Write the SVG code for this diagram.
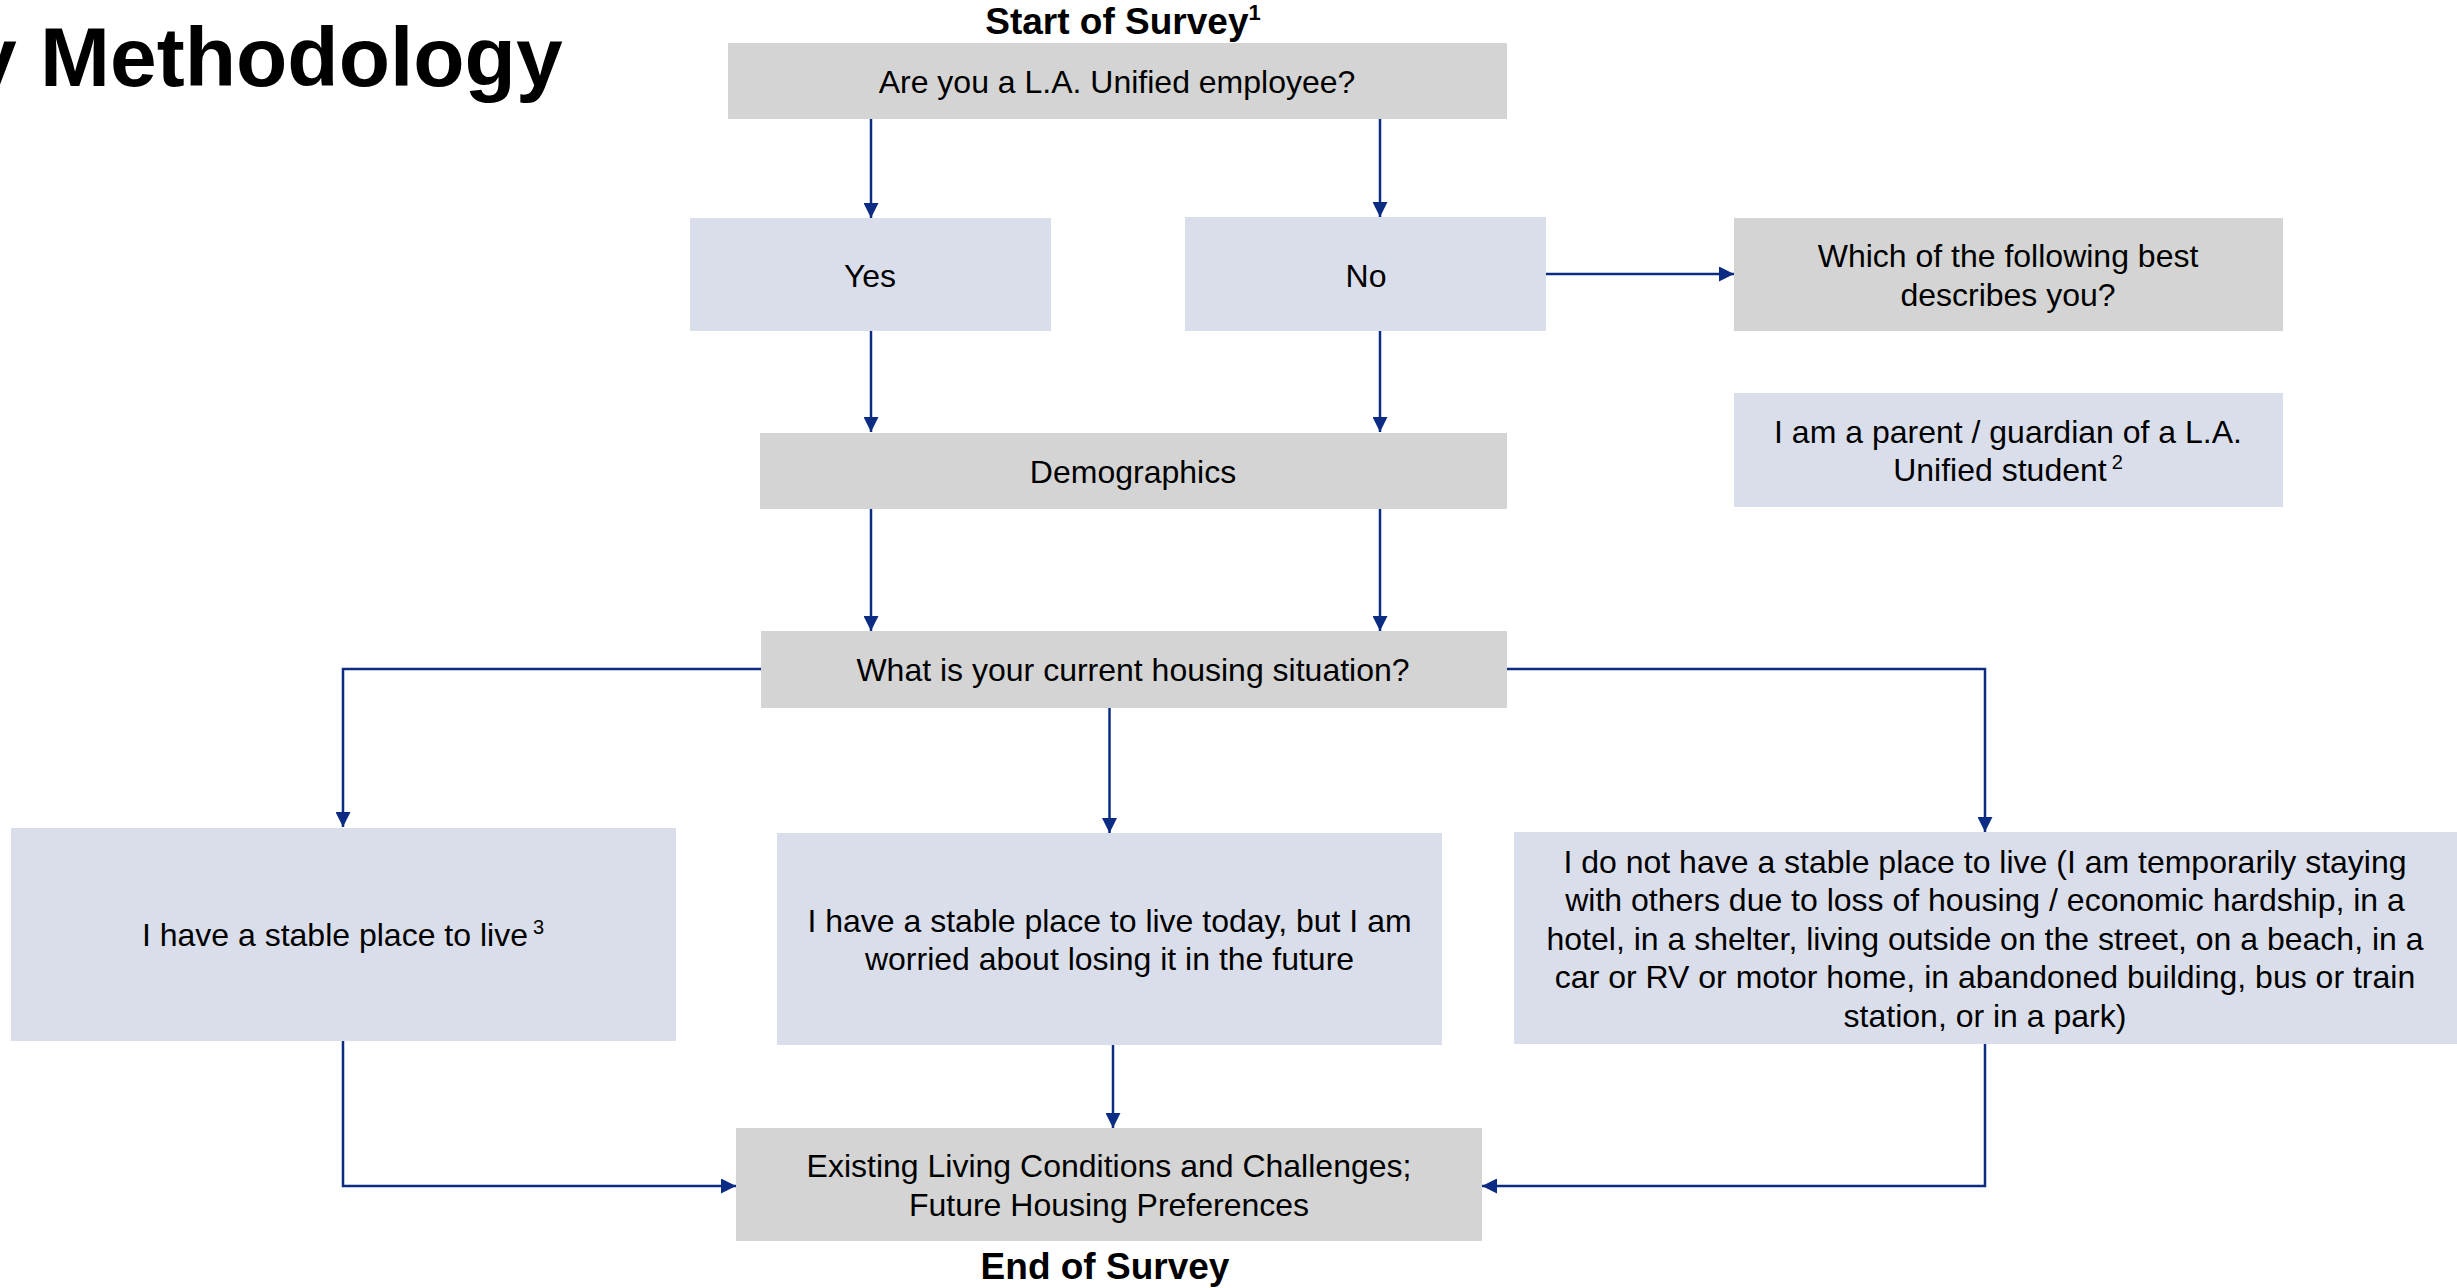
<svg xmlns="http://www.w3.org/2000/svg" width="2457" height="1288" viewBox="0 0 2457 1288">
<defs>
<marker id="ah" markerUnits="userSpaceOnUse" markerWidth="15" markerHeight="15" viewBox="0 0 15 15" refX="15" refY="7.5" orient="auto">
<path d="M0,0 L15,7.5 L0,15 z" fill="#0c2c84"/>
</marker>
</defs>
<style>
.g{fill:#d3d4d3}
.b{fill:#dadeea}
.t{font-family:"Liberation Sans",Arial,sans-serif;font-size:32px;fill:#000;text-anchor:middle}
.h{font-family:"Liberation Sans",Arial,sans-serif;font-weight:bold;font-size:37px;fill:#000;text-anchor:middle}
.sup{font-size:20px}
.c{fill:none;stroke:#0c2c84;stroke-width:2.5;marker-end:url(#ah)}
</style>
<rect width="2457" height="1288" fill="#fff"/>
<text x="-30" y="86" font-family="Liberation Sans,Arial,sans-serif" font-weight="bold" font-size="84" fill="#000">y Methodology</text>
<text class="h" x="1123" y="34">Start of Survey<tspan font-size="22" dy="-14">1</tspan></text>
<text class="h" x="1105" y="1279">End of Survey</text>

<g id="connectors">
<path class="c" d="M871,119 V218"/>
<path class="c" d="M1380,119 V217"/>
<path class="c" d="M1546,274 H1734"/>
<path class="c" d="M871,331 V432"/>
<path class="c" d="M1380,331 V432"/>
<path class="c" d="M871,509 V631"/>
<path class="c" d="M1380,509 V631"/>
<path class="c" d="M761,669 H343 V827"/>
<path class="c" d="M1109.5,708 V833"/>
<path class="c" d="M1507,669 H1985 V832"/>
<path class="c" d="M343,1041 V1186 H736"/>
<path class="c" d="M1113,1045 V1128"/>
<path class="c" d="M1985,1044 V1186 H1482"/>
</g>

<g id="n-employee">
<rect class="g" x="728" y="43" width="779" height="76"/>
<text class="t" x="1117" y="93">Are you a L.A. Unified employee?</text>
</g>
<g id="n-yes">
<rect class="b" x="690" y="218" width="361" height="113"/>
<text class="t" x="870" y="287">Yes</text>
</g>
<g id="n-no">
<rect class="b" x="1185" y="217" width="361" height="114"/>
<text class="t" x="1366" y="287">No</text>
</g>
<g id="n-which">
<rect class="g" x="1734" y="218" width="549" height="113"/>
<text class="t" x="2008" y="267">Which of the following best</text>
<text class="t" x="2008" y="306">describes you?</text>
</g>
<g id="n-parent">
<rect class="b" x="1734" y="393" width="549" height="114"/>
<text class="t" x="2008" y="443">I am a parent / guardian of a L.A.</text>
<text class="t" x="2008" y="481">Unified student<tspan class="sup" dx="5" dy="-12">2</tspan></text>
</g>
<g id="n-demographics">
<rect class="g" x="760" y="433" width="747" height="76"/>
<text class="t" x="1133" y="483">Demographics</text>
</g>
<g id="n-housing">
<rect class="g" x="761" y="631" width="746" height="77"/>
<text class="t" x="1133" y="681">What is your current housing situation?</text>
</g>
<g id="n-stable">
<rect class="b" x="11" y="828" width="665" height="213"/>
<text class="t" x="343" y="946">I have a stable place to live<tspan class="sup" dx="5" dy="-12">3</tspan></text>
</g>
<g id="n-worried">
<rect class="b" x="777" y="833" width="665" height="212"/>
<text class="t" x="1109.5" y="932">I have a stable place to live today, but I am</text>
<text class="t" x="1109.5" y="970">worried about losing it in the future</text>
</g>
<g id="n-unstable">
<rect class="b" x="1514" y="832" width="943" height="212"/>
<text class="t" x="1985" y="873">I do not have a stable place to live (I am temporarily staying</text>
<text class="t" x="1985" y="911">with others due to loss of housing / economic hardship, in a</text>
<text class="t" x="1985" y="950">hotel, in a shelter, living outside on the street, on a beach, in a</text>
<text class="t" x="1985" y="988">car or RV or motor home, in abandoned building, bus or train</text>
<text class="t" x="1985" y="1027">station, or in a park)</text>
</g>
<g id="n-existing">
<rect class="g" x="736" y="1128" width="746" height="113"/>
<text class="t" x="1109" y="1177">Existing Living Conditions and Challenges;</text>
<text class="t" x="1109" y="1216">Future Housing Preferences</text>
</g>
</svg>
